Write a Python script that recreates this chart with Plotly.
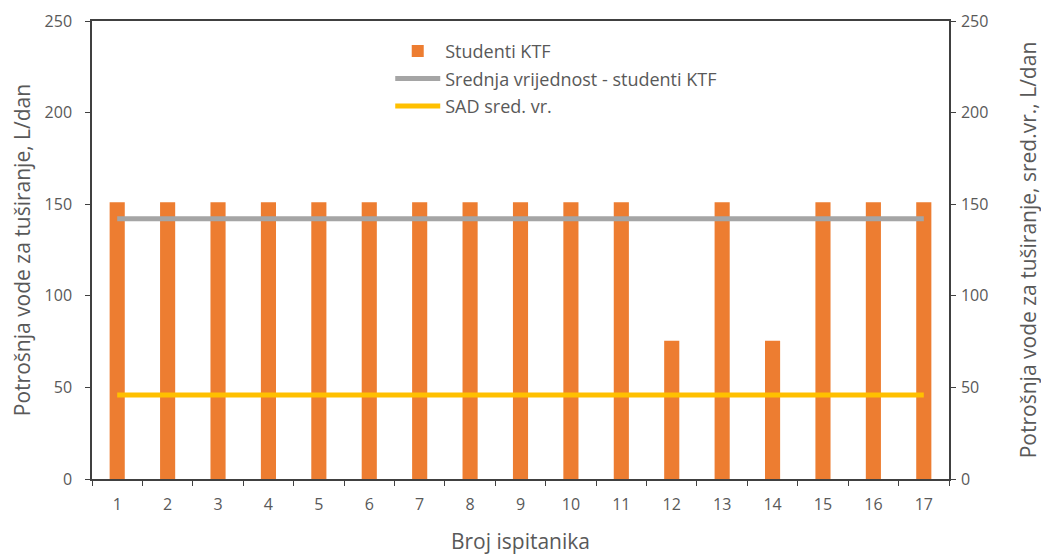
import plotly.graph_objects as go

ispitanici = [str(i) for i in range(1, 17 + 1)]
studenti_ktf = [151, 151, 151, 151, 151, 151, 151, 151, 151, 151, 151, 75.5, 151, 75.5, 151, 151, 151]
srednja_ktf = [142.1] * 17
sad_sred = [45.8] * 17

FONT = "Open Sans"
TXT = "#595959"
AXC = "#404040"

fig = go.Figure()
fig.add_trace(go.Bar(x=ispitanici, y=studenti_ktf, name="Studenti KTF",
                     marker=dict(color="#ED7D31", line=dict(width=0)),
                     legendgroup="a"))
fig.add_trace(go.Scatter(x=ispitanici, y=srednja_ktf, mode="lines",
                         name="Srednja vrijednost - studenti KTF",
                         line=dict(color="#A5A5A5", width=5), legendgroup="b"))
fig.add_trace(go.Scatter(x=ispitanici, y=sad_sred, mode="lines", name="SAD sred. vr.",
                         line=dict(color="#FFC000", width=5), legendgroup="c", yaxis="y2"))

axis_common = dict(range=[0, 250], tickvals=[0, 50, 100, 150, 200, 250],
                   showgrid=False, zeroline=False, showline=True, linecolor=AXC, linewidth=1.5,
                   ticks="outside", ticklen=5, tickcolor=AXC, automargin=False,
                   tickfont=dict(family=FONT, size=16, color=TXT))

fig.update_layout(
    width=1049, height=556,
    margin=dict(l=84, r=108, t=13, b=85),
    paper_bgcolor="white", plot_bgcolor="white",
    bargap=0.7,
    font=dict(family=FONT, color=TXT),
    xaxis=dict(type="category", tickson="boundaries", ticks="outside", ticklen=5,
               tickcolor=AXC, showline=True, linecolor=AXC, linewidth=1.5, mirror=True,
               showgrid=False, automargin=False, ticklabelstandoff=10,
               tickfont=dict(family=FONT, size=16, color=TXT),
               title=dict(text="Broj ispitanika", font=dict(family=FONT, size=21, color=TXT),
                          standoff=20)),
    yaxis=dict(**axis_common, ticklabelstandoff=10,
               title=dict(text="Potrošnja vode za tuširanje, L/dan",
                          font=dict(family=FONT, size=21, color=TXT), standoff=8)),
    yaxis2=dict(**axis_common, overlaying="y", side="right", ticklabelstandoff=2,
                title=dict(text="Potrošnja vode za tuširanje, sred.vr., L/dan",
                           font=dict(family=FONT, size=21, color=TXT), standoff=34)),
    legend=dict(x=0.348, y=0.974, xanchor="left", yanchor="top",
                bgcolor="rgba(0,0,0,0)", traceorder="grouped", tracegroupgap=1,
                itemwidth=45, font=dict(family=FONT, size=18, color=TXT)),
)

fig.write_html("out.html")
